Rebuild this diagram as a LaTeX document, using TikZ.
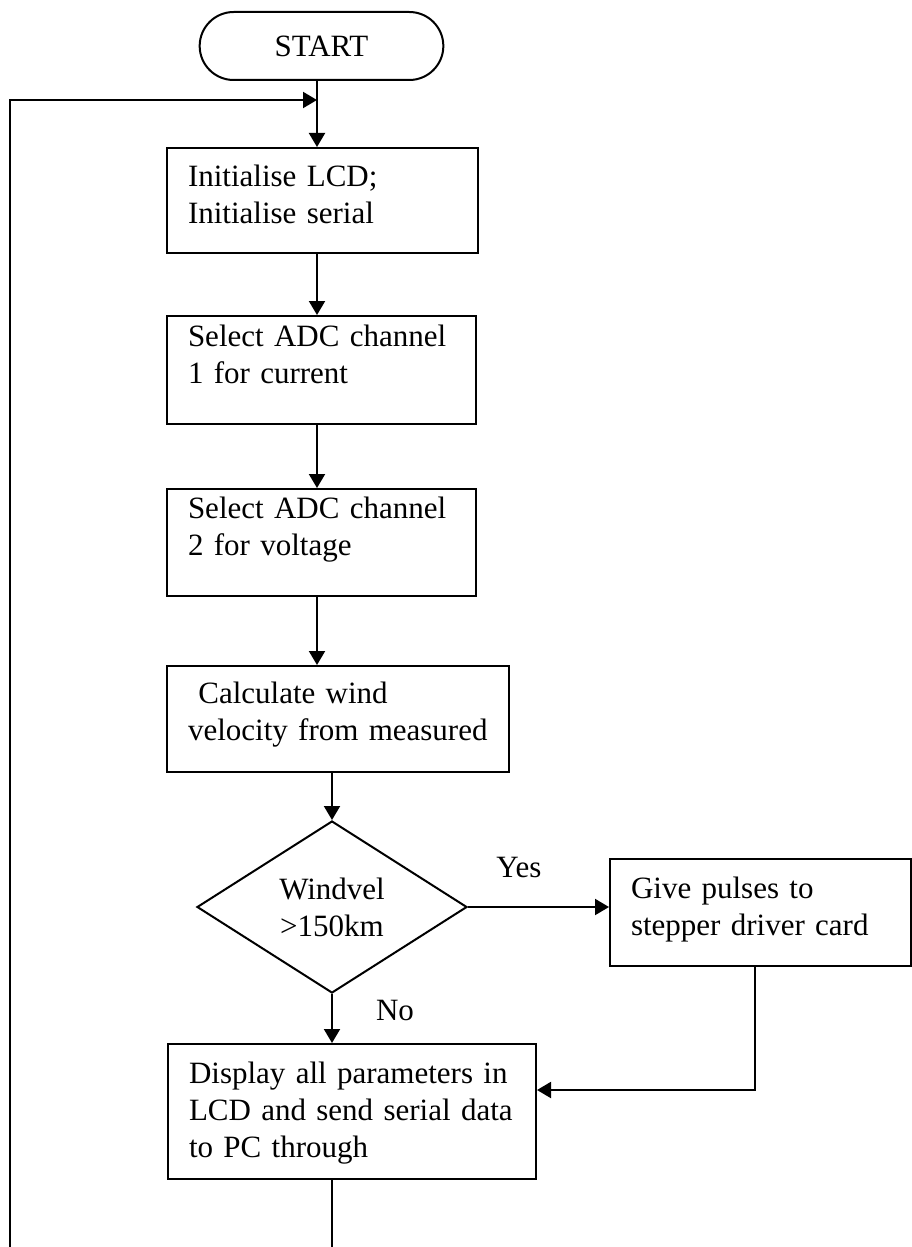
\documentclass[tikz,border=0pt]{standalone}
\usepackage{fontspec}
\setmainfont{Liberation Serif}
\usepackage{tikz}
\usetikzlibrary{shapes,arrows.meta}
\tikzstyle{box} = [draw, line width=1pt, anchor=north west, align=left,
	inner xsep=10.5pt, inner ysep=0pt]
\tikzstyle{decision} = [draw, diamond, line width=1pt, align=center,
	inner sep=0pt, minimum width=135pt, minimum height=86pt]
\tikzstyle{line} = [draw, line width=1pt, -{Triangle[length=7pt,width=8pt]}]

\begin{document}
\begin{tikzpicture}[x=0.5pt, y=-0.5pt, font=\fontsize{15.5pt}{18.5pt}\selectfont]
	\useasboundingbox (0,0) rectangle (911,1247);

	\node[draw, rounded rectangle, line width=1pt, minimum width=128.5pt,
		minimum height=34pt] (start) at (321.5,46) {START};
	\node[box, text width=134.5pt, text height=19pt, text depth=33.5pt]
		(init) at (166,147) {Initialise LCD;\\Initialise serial};
	\node[box, text width=133.5pt, text height=15pt, text depth=39pt]
		(sel1) at (166,315) {Select ADC channel\\1 for current};
	\node[box, text width=133.5pt, text height=14.5pt, text depth=39pt]
		(sel2) at (166,488) {Select ADC channel\\2 for voltage};
	\node[box, text width=150pt, text height=18.5pt, text depth=34.5pt]
		(calc) at (166,665) {\ Calculate wind\\velocity from measured};
	\node[decision] (dec) at (332,907) {Windvel\\>150km};
	\node[box, text width=129.5pt, text height=19.5pt, text depth=34pt]
		(give) at (609,858) {Give pulses to\\stepper driver card};
	\node[box, text width=163pt, text height=19.5pt, text depth=48pt]
		(disp) at (167,1043) {Display all parameters in\\LCD and send serial data\\to PC through};

	\node (yes) at (519,867) {Yes};
	\node (no) at (395,1010) {No};

	\coordinate (loop) at (317,100);
	\coordinate (join) at (755,1090);
	\coordinate (bottom) at (10,1247);

	% main column
	\draw[line] (start.south -| loop) -- (init.north -| loop);
	\draw[line] (init.south -| loop) -- (sel1.north -| loop);
	\draw[line] (sel1.south -| loop) -- (sel2.north -| loop);
	\draw[line] (sel2.south -| loop) -- (calc.north -| loop);
	\draw[line] (calc.south -| dec) -- (dec.north);
	\draw[line] (dec.east) -- (dec.east -| give.west);
	\draw[line] (dec.south) -- (disp.north -| dec);
	\draw[line] (give.south -| join) -- (join) -- (join -| disp.east);

	% back to the top
	\draw[line width=1pt] (disp.south -| dec) -- (bottom -| dec);
	\draw[line] (bottom) |- (loop);
\end{tikzpicture}
\end{document}
